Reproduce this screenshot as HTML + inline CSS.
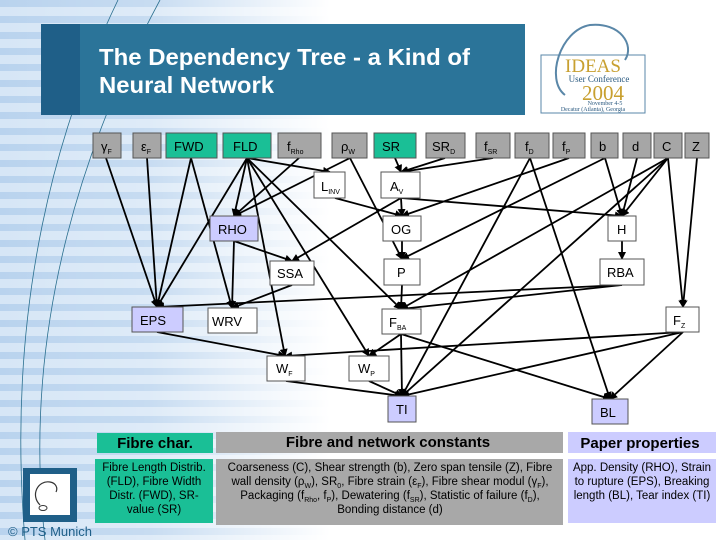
<!DOCTYPE html>
<html><head><meta charset="utf-8"><style>
body{margin:0;width:720px;height:540px;overflow:hidden;background:#fff;font-family:"Liberation Sans",sans-serif}
</style></head><body>
<svg width="720" height="540" viewBox="0 0 720 540" xmlns="http://www.w3.org/2000/svg" font-family="Liberation Sans, sans-serif">
<defs>
<linearGradient id="fade" x1="0" x2="1" y1="0" y2="0">
<stop offset="0" stop-color="#fff" stop-opacity="0"/>
<stop offset="0.45" stop-color="#fff" stop-opacity="0.2"/>
<stop offset="1" stop-color="#fff" stop-opacity="1"/>
</linearGradient>
<pattern id="stripes" width="10" height="16" patternUnits="userSpaceOnUse">
<rect width="10" height="16" fill="#d6e6f6"/>
<rect y="0" width="10" height="7" fill="#b9d3ee"/>
</pattern>
<marker id="ar" markerWidth="8" markerHeight="8" refX="7" refY="4" orient="auto" markerUnits="userSpaceOnUse">
<path d="M0,0 L8,4 L0,8 z" fill="#000"/>
</marker>
</defs>
<rect x="0" y="0" width="330" height="540" fill="url(#stripes)"/>
<rect x="0" y="0" width="330" height="540" fill="url(#fade)"/>
<path d="M118,0 C60,120 5,300 25,540" stroke="#2a6f8f" stroke-width="0.8" fill="none"/>
<path d="M160,0 C90,130 20,320 45,540" stroke="#2a6f8f" stroke-width="0.8" fill="none"/>

<!-- title banner -->
<rect x="41" y="24" width="484" height="91" fill="#2b7499"/>
<rect x="41" y="24" width="39" height="91" fill="#1f5f88"/>
<text x="99" y="65" fill="#fff" font-size="23" font-weight="bold" textLength="371" lengthAdjust="spacingAndGlyphs">The Dependency Tree - a Kind of</text>
<text x="99" y="93" fill="#fff" font-size="23" font-weight="bold" textLength="175" lengthAdjust="spacingAndGlyphs">Neural Network</text>

<!-- IDEAS logo -->
<rect x="541" y="55" width="104" height="58" fill="#fff" stroke="#5a87a8" stroke-width="1"/>
<path d="M565,95 C545,80 560,30 590,25 C620,22 635,45 625,60" stroke="#5a87a8" stroke-width="2" fill="none"/>
<text x="593" y="72" fill="#c8a030" font-size="19" font-family="Liberation Serif, serif" text-anchor="middle">IDEAS</text>
<text x="599" y="82" fill="#2b5a80" font-size="9" font-family="Liberation Serif, serif" text-anchor="middle">User Conference</text>
<text x="603" y="100" fill="#c8a030" font-size="21" font-family="Liberation Serif, serif" text-anchor="middle">2004</text>
<text x="605" y="105" fill="#2b5a80" font-size="6" font-family="Liberation Serif, serif" text-anchor="middle">November 4-5</text>
<text x="593" y="111" fill="#2b5a80" font-size="6" font-family="Liberation Serif, serif" text-anchor="middle">Decatur (Atlanta), Georgia</text>

<!-- edges -->
<g stroke="#000" stroke-width="1.8" marker-end="url(#ar)" fill="none">
<line x1="106" y1="158" x2="157" y2="307"/>
<line x1="147" y1="158" x2="157" y2="307"/>
<line x1="191" y1="158" x2="157" y2="307"/>
<line x1="247" y1="158" x2="157" y2="307"/>
<line x1="191" y1="158" x2="232" y2="308"/>
<line x1="247" y1="158" x2="234" y2="216"/>
<line x1="247" y1="158" x2="330" y2="172"/>
<line x1="247" y1="158" x2="285" y2="356"/>
<line x1="247" y1="158" x2="369" y2="356"/>
<line x1="247" y1="158" x2="401" y2="309"/>
<line x1="299" y1="158" x2="234" y2="216"/>
<line x1="350" y1="158" x2="234" y2="216"/>
<line x1="350" y1="158" x2="402" y2="259"/>
<line x1="395" y1="158" x2="401" y2="172"/>
<line x1="445" y1="158" x2="401" y2="172"/>
<line x1="493" y1="158" x2="401" y2="172"/>
<line x1="530" y1="158" x2="402" y2="396"/>
<line x1="530" y1="158" x2="610" y2="399"/>
<line x1="569" y1="158" x2="402" y2="216"/>
<line x1="605" y1="158" x2="402" y2="259"/>
<line x1="605" y1="158" x2="622" y2="216"/>
<line x1="637" y1="158" x2="622" y2="216"/>
<line x1="668" y1="158" x2="622" y2="216"/>
<line x1="668" y1="158" x2="401" y2="309"/>
<line x1="668" y1="158" x2="402" y2="396"/>
<line x1="668" y1="158" x2="683" y2="307"/>
<line x1="697" y1="158" x2="683" y2="307"/>
<line x1="335" y1="198" x2="402" y2="216"/>
<line x1="401" y1="198" x2="402" y2="216"/>
<line x1="401" y1="198" x2="622" y2="216"/>
<line x1="401" y1="198" x2="292" y2="261"/>
<line x1="234" y1="241" x2="292" y2="261"/>
<line x1="234" y1="241" x2="232" y2="308"/>
<line x1="402" y1="241" x2="402" y2="259"/>
<line x1="622" y1="241" x2="622" y2="259"/>
<line x1="292" y1="285" x2="232" y2="308"/>
<line x1="402" y1="285" x2="401" y2="309"/>
<line x1="622" y1="285" x2="401" y2="309"/>
<line x1="622" y1="285" x2="157" y2="307"/>
<line x1="157" y1="332" x2="285" y2="356"/>
<line x1="683" y1="332" x2="285" y2="356"/>
<line x1="683" y1="332" x2="402" y2="396"/>
<line x1="683" y1="332" x2="610" y2="399"/>
<line x1="401" y1="334" x2="369" y2="356"/>
<line x1="401" y1="334" x2="402" y2="396"/>
<line x1="401" y1="334" x2="610" y2="399"/>
<line x1="286" y1="381" x2="402" y2="396"/>
<line x1="369" y1="381" x2="402" y2="396"/>
</g>

<!-- top row nodes -->
<g stroke="#555" stroke-width="1" font-size="13" text-anchor="middle">
<rect x="93" y="133" width="28" height="25" fill="#a6a6a6"/>
<rect x="133" y="133" width="28" height="25" fill="#a6a6a6"/>
<rect x="166" y="133" width="51" height="25" fill="#1abf96"/>
<rect x="223" y="133" width="48" height="25" fill="#1abf96"/>
<rect x="278" y="133" width="43" height="25" fill="#a6a6a6"/>
<rect x="332" y="133" width="35" height="25" fill="#a6a6a6"/>
<rect x="374" y="133" width="42" height="25" fill="#1abf96"/>
<rect x="426" y="133" width="39" height="25" fill="#a6a6a6"/>
<rect x="476" y="133" width="34" height="25" fill="#a6a6a6"/>
<rect x="515" y="133" width="34" height="25" fill="#a6a6a6"/>
<rect x="553" y="133" width="32" height="25" fill="#a6a6a6"/>
<rect x="591" y="133" width="27" height="25" fill="#a6a6a6"/>
<rect x="623" y="133" width="28" height="25" fill="#a6a6a6"/>
<rect x="654" y="133" width="28" height="25" fill="#a6a6a6"/>
<rect x="685" y="133" width="24" height="25" fill="#a6a6a6"/>
</g>
<g font-size="13" fill="#000">
<text x="101" y="151">γ<tspan font-size="7" dy="3">F</tspan></text>
<text x="141" y="151">ε<tspan font-size="7" dy="3">F</tspan></text>
<text x="174" y="151">FWD</text>
<text x="233" y="151">FLD</text>
<text x="287" y="151">f<tspan font-size="7" dy="3">Rho</tspan></text>
<text x="341" y="151">ρ<tspan font-size="7" dy="3">W</tspan></text>
<text x="382" y="151">SR</text>
<text x="432" y="151">SR<tspan font-size="7" dy="3">D</tspan></text>
<text x="484" y="151">f<tspan font-size="7" dy="3">SR</tspan></text>
<text x="525" y="151">f<tspan font-size="7" dy="3">D</tspan></text>
<text x="562" y="151">f<tspan font-size="7" dy="3">P</tspan></text>
<text x="599" y="151">b</text>
<text x="632" y="151">d</text>
<text x="662" y="151">C</text>
<text x="692" y="151">Z</text>
</g>

<!-- lower nodes -->
<g stroke="#555" stroke-width="1">
<rect x="314" y="172" width="31" height="26" fill="#fff"/>
<rect x="381" y="172" width="39" height="26" fill="#fff"/>
<rect x="210" y="216" width="48" height="25" fill="#ccccff"/>
<rect x="383" y="216" width="38" height="25" fill="#fff"/>
<rect x="608" y="216" width="28" height="25" fill="#fff"/>
<rect x="270" y="261" width="44" height="24" fill="#fff"/>
<rect x="384" y="259" width="36" height="26" fill="#fff"/>
<rect x="600" y="259" width="44" height="26" fill="#fff"/>
<rect x="132" y="307" width="51" height="25" fill="#ccccff"/>
<rect x="208" y="308" width="49" height="25" fill="#fff"/>
<rect x="382" y="309" width="39" height="25" fill="#fff"/>
<rect x="666" y="307" width="33" height="25" fill="#fff"/>
<rect x="267" y="356" width="38" height="25" fill="#fff"/>
<rect x="349" y="356" width="40" height="25" fill="#fff"/>
<rect x="388" y="396" width="28" height="26" fill="#ccccff"/>
<rect x="592" y="399" width="36" height="25" fill="#ccccff"/>
</g>
<g font-size="13" fill="#000">
<text x="321" y="191">L<tspan font-size="7" dy="3">INV</tspan></text>
<text x="390" y="191">A<tspan font-size="7" dy="3">V</tspan></text>
<text x="218" y="234">RHO</text>
<text x="391" y="234">OG</text>
<text x="617" y="234">H</text>
<text x="277" y="278">SSA</text>
<text x="397" y="277">P</text>
<text x="607" y="277">RBA</text>
<text x="140" y="325">EPS</text>
<text x="212" y="326">WRV</text>
<text x="389" y="327">F<tspan font-size="7" dy="3">BA</tspan></text>
<text x="673" y="325">F<tspan font-size="7" dy="3">Z</tspan></text>
<text x="276" y="373">W<tspan font-size="7" dy="3">F</tspan></text>
<text x="358" y="373">W<tspan font-size="7" dy="3">P</tspan></text>
<text x="396" y="414">TI</text>
<text x="600" y="417">BL</text>
</g>

<!-- legend -->
<rect x="97" y="433" width="116" height="20" fill="#1abf96"/>
<text x="155" y="448" font-size="15" font-weight="bold" text-anchor="middle">Fibre char.</text>
<rect x="95" y="459" width="118" height="64" fill="#1abf96"/>
<g font-size="11.5" text-anchor="middle">
<text x="154" y="471">Fibre Length Distrib.</text>
<text x="154" y="485">(FLD), Fibre Width</text>
<text x="154" y="499">Distr. (FWD), SR-</text>
<text x="154" y="513">value (SR)</text>
</g>
<rect x="216" y="432" width="347" height="21" fill="#a8a8a8"/>
<text x="388" y="447" font-size="15" font-weight="bold" text-anchor="middle">Fibre and network constants</text>
<rect x="216" y="459" width="347" height="66" fill="#a8a8a8"/>
<g font-size="11.5" text-anchor="middle">
<text x="390" y="471">Coarseness (C), Shear strength (b), Zero span tensile (Z), Fibre</text>
<text x="390" y="485">wall density (ρ<tspan font-size="7" dy="3">W</tspan><tspan dy="-3">), SR</tspan><tspan font-size="7" dy="3">0</tspan><tspan dy="-3">, Fibre strain (ε</tspan><tspan font-size="7" dy="3">F</tspan><tspan dy="-3">), Fibre shear modul (γ</tspan><tspan font-size="7" dy="3">F</tspan><tspan dy="-3">),</tspan></text>
<text x="390" y="499">Packaging (f<tspan font-size="7" dy="3">Rho</tspan><tspan dy="-3">, f</tspan><tspan font-size="7" dy="3">P</tspan><tspan dy="-3">), Dewatering (f</tspan><tspan font-size="7" dy="3">SR</tspan><tspan dy="-3">), Statistic of failure (f</tspan><tspan font-size="7" dy="3">D</tspan><tspan dy="-3">),</tspan></text>
<text x="390" y="513">Bonding distance (d)</text>
</g>
<rect x="568" y="432" width="148" height="21" fill="#ccccff"/>
<text x="640" y="448" font-size="15" font-weight="bold" text-anchor="middle">Paper properties</text>
<rect x="568" y="459" width="148" height="64" fill="#ccccff"/>
<g font-size="11.5" text-anchor="middle">
<text x="642" y="471">App. Density (RHO), Strain</text>
<text x="642" y="485">to rupture (EPS), Breaking</text>
<text x="642" y="499">length (BL), Tear index (TI)</text>
</g>

<!-- PTS logo -->
<rect x="23" y="468" width="54" height="54" fill="#1f5f88"/>
<rect x="30" y="474" width="40" height="41" fill="#fff"/>
<path d="M40,505 C30,495 38,480 50,482 C56,483 58,488 56,492" stroke="#333" stroke-width="1.2" fill="none"/>
<ellipse cx="43" cy="508" rx="4" ry="2.5" stroke="#333" fill="none"/>
<text x="8" y="536" font-size="13" fill="#1f5f88">© PTS Munich</text>
</svg>
</body></html>
